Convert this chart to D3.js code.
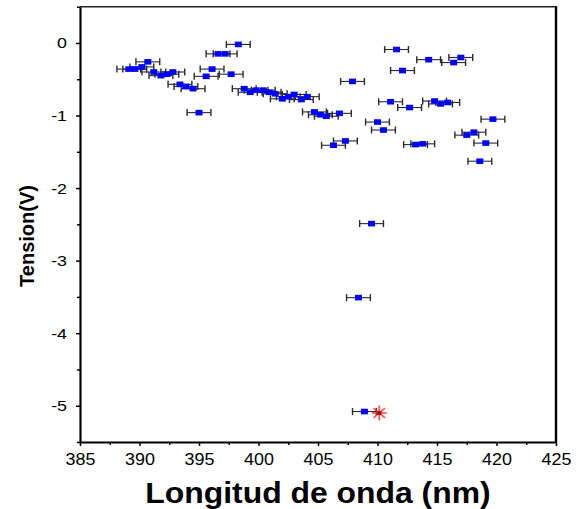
<!DOCTYPE html>
<html>
<head>
<meta charset="utf-8">
<script src="https://cdn.jsdelivr.net/npm/d3@7"></script>
<style>
  html, body { margin: 0; padding: 0; background: #fff; }
  svg { display: block; }
  text { font-family: "Liberation Sans", Arial, sans-serif; fill: #000; }
</style>
</head>
<body>
<svg id="chart" width="581" height="509"></svg>
<script>
// ---- data ----
const wavelength = [389.1, 389.6, 390.2, 390.7, 391.2, 391.8, 392.3, 392.8, 393.4, 393.9,
  394.5, 395.0, 395.6, 396.1, 396.6, 397.2, 397.7, 398.3, 398.8, 399.3,
  399.8, 400.4, 400.9, 401.4, 402.0, 402.5, 403.0, 403.6, 404.1, 404.7,
  405.2, 405.7, 406.3, 406.8, 407.3, 407.9, 408.4, 408.9, 409.5, 410.0,
  410.5, 411.1, 411.6, 412.1, 412.7, 413.2, 413.8, 414.3, 414.8, 415.3,
  415.9, 416.4, 417.0, 417.5, 418.1, 418.6, 419.1, 419.7];
const tension = [-0.36, -0.36, -0.33, -0.26, -0.40, -0.45, -0.43, -0.40, -0.57, -0.60,
  -0.63, -0.96, -0.46, -0.36, -0.15, -0.15, -0.43, -0.02, -0.63, -0.68,
  -0.65, -0.65, -0.68, -0.70, -0.77, -0.74, -0.71, -0.78, -0.74, -0.95,
  -0.99, -1.01, -1.41, -0.97, -1.35, -0.53, -3.51, -5.08, -2.49, -1.09,
  -1.20, -0.81, -0.09, -0.38, -0.89, -1.40, -1.39, -0.23, -0.80, -0.84,
  -0.82, -0.27, -0.20, -1.27, -1.23, -1.63, -1.38, -1.05];
const wavelengthError = 1.0;
const starWavelength = [410.15];
const starTension = [-5.10];
const xTicks = [385, 390, 395, 400, 405, 410, 415, 420, 425];
const yTicks = [0, -1, -2, -3, -4, -5];
const xTitle = "Longitud de onda (nm)";
const yTitle = "Tension(V)";

// ---- layout ----
const svg = d3.select("#chart");
const L = 80, R = 556, T = 6.7, B = 442;
const x = d3.scaleLinear().domain([385, 425]).range([L, R]);
const y = d3.scaleLinear().domain([-5.5, 0.5]).range([B, T]);

// frame: top & right
svg.append("line").attr("x1", L).attr("x2", R).attr("y1", T).attr("y2", T)
  .attr("stroke", "#222").attr("stroke-width", 1.6);
svg.append("line").attr("x1", R).attr("x2", R).attr("y1", T - 0.8).attr("y2", B)
  .attr("stroke", "#000").attr("stroke-width", 2.4);

// x axis
const xMinor = d3.range(385, 425.01, 2.5).filter(v => !xTicks.includes(v));
const gx = svg.append("g").attr("transform", `translate(0,${B})`);
gx.call(d3.axisBottom(x).tickValues(xMinor).tickSize(3).tickFormat(""))
  .call(g => g.select(".domain").remove())
  .call(g => g.selectAll("line").attr("stroke-width", 1.5));
const gx2 = svg.append("g").attr("transform", `translate(0,${B})`);
gx2.call(d3.axisBottom(x).tickValues(xTicks).tickSize(4).tickPadding(7).tickSizeOuter(0))
  .call(g => g.select(".domain").attr("stroke-width", 2.2))
  .call(g => g.selectAll("line").attr("stroke-width", 1.5))
  .call(g => g.selectAll("text").attr("font-size", 16).attr("font-family", "Liberation Sans, Arial, sans-serif")
      .attr("fill", "#000"));
gx2.selectAll(".tick text").attr("dy", null).attr("y", 23)
  .style("transform-box", "fill-box").style("transform-origin", "center").style("transform", "scaleX(1.12)");

// y axis
const yMinor = d3.range(-5.5, 0.51, 0.5).filter(v => !yTicks.includes(v));
const gy = svg.append("g").attr("transform", `translate(${L},0)`);
gy.call(d3.axisLeft(y).tickValues(yMinor).tickSize(3).tickFormat(""))
  .call(g => g.select(".domain").remove())
  .call(g => g.selectAll("line").attr("stroke-width", 1.5));
const gy2 = svg.append("g").attr("transform", `translate(${L},0)`);
gy2.call(d3.axisLeft(y).tickValues(yTicks).tickSize(4).tickPadding(9).tickSizeOuter(0).tickFormat(d => d === 0 ? "0" : String(d).replace("−", "-")))
  .call(g => g.select(".domain").attr("stroke-width", 2.2))
  .call(g => g.selectAll("line").attr("stroke-width", 1.5))
  .call(g => g.selectAll("text").attr("font-size", 15.5).attr("font-family", "Liberation Sans, Arial, sans-serif").attr("fill", "#000"));
gy2.selectAll(".tick text").style("transform-box", "fill-box").style("transform-origin", "right center").style("transform", "scaleX(1.15)");

// axis titles
svg.append("text").attr("x", 318).attr("y", 503).attr("text-anchor", "middle")
  .attr("font-size", 29).attr("font-weight", "bold").text(xTitle)
  .style("transform-box", "fill-box").style("transform-origin", "center").style("transform", "scaleX(1.1)");
svg.append("text").attr("transform", "translate(34,236) rotate(-90)").attr("text-anchor", "middle")
  .attr("font-size", 20).attr("font-weight", "bold").text(yTitle);

// data
const pts = wavelength.map((w, i) => ({ w, v: tension[i] }));
const eb = svg.append("g").attr("stroke", "#2a2a2a").attr("stroke-width", 1.1).attr("fill", "none");
pts.forEach(p => {
  const cy = y(p.v), x0 = x(p.w - wavelengthError), x1 = x(p.w + wavelengthError);
  eb.append("line").attr("x1", x0).attr("x2", x1).attr("y1", cy).attr("y2", cy);
  eb.append("line").attr("x1", x0).attr("x2", x0).attr("y1", cy - 3.5).attr("y2", cy + 3.5).attr("stroke-width", 1.4);
  eb.append("line").attr("x1", x1).attr("x2", x1).attr("y1", cy - 3.5).attr("y2", cy + 3.5).attr("stroke-width", 1.4);
});
svg.append("g").selectAll("rect").data(pts).join("rect")
  .attr("x", d => x(d.w) - 3.5).attr("y", d => y(d.v) - 2.8)
  .attr("width", 7).attr("height", 5.6).attr("fill", "#0000ff");

// red star marker
const stars = starWavelength.map((w, i) => ({ w, v: starTension[i] }));
const sg = svg.append("g");
stars.forEach(s => {
  const cx = x(s.w), cy = y(s.v), r = 7.5;
  [0, 40, 90, 140].forEach(a => {
    const rad = a * Math.PI / 180;
    sg.append("line")
      .attr("x1", cx - r * Math.cos(rad)).attr("y1", cy - r * Math.sin(rad))
      .attr("x2", cx + r * Math.cos(rad)).attr("y2", cy + r * Math.sin(rad))
      .attr("stroke", "#ff2a2a").attr("stroke-width", 1.7).attr("stroke-opacity", 0.8);
  });
  sg.append("rect").attr("x", cx - 2).attr("y", cy - 2).attr("width", 4).attr("height", 4).attr("fill", "#b00000");
});
</script>
</body>
</html>
